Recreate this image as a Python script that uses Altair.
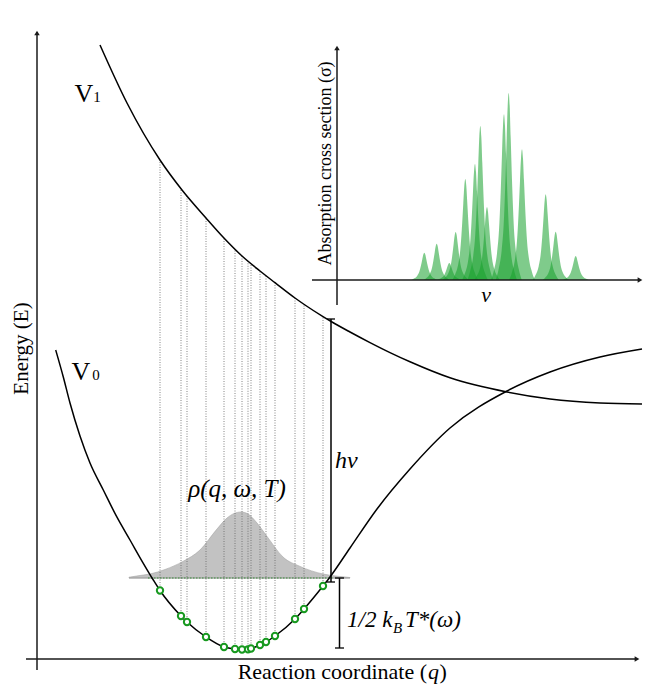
import altair as alt
import pandas as pd

# ---------------- data ----------------
# excited-state potential V1 (reaction coordinate q, energy E)
V1_q = [100, 127, 160, 182, 206, 223, 242, 260, 275, 295, 305, 323, 332, 350, 370, 390, 410, 450,
        507, 550, 600, 642]
V1_E = [615, 557, 500, 470, 442, 423, 404, 389, 377.3, 362, 355, 343.4, 338, 328, 317.4, 307.4, 298.2,
        282.2, 268, 261, 257, 256]

# ground-state potential V0
V0_q = [55.7, 63.3, 70, 80, 90, 103.3, 116.7, 130, 143.3, 153.3, 160, 181, 187, 206, 224, 235, 242,
        248, 251, 260, 266, 275, 295, 304, 323, 330, 350, 377, 410, 450, 507, 550, 600, 642]
V0_E = [310, 283, 257, 224, 197, 170, 143.3, 120, 96.7, 80, 69.5, 44, 38, 23, 13, 11, 10.5,
        10.7, 11.5, 15, 18, 24, 41, 51, 74, 83, 112, 151, 191, 232, 269, 288, 303, 311]

# sampled configurations on V0 and vertical excitation to V1
samp_q = [160, 181, 187, 206, 224, 235, 242, 248, 251, 260, 266, 275, 295, 304, 323]
samp_E0 = [69.5, 44, 38, 23, 13, 11, 10.5, 10.7, 11.5, 15, 18, 24, 41, 51, 74]
samp_E1 = [500, 471, 464, 442, 422, 411, 404, 399, 396.5, 389, 384.5, 377.3, 362, 355.7, 343.4]

# phase-space density rho(q, omega, T)
rho_q = [129, 140, 150, 165, 183, 200, 217, 227, 234, 241, 248, 257, 267, 283, 300, 323, 340, 350]
rho_h = [0.8, 2.5, 4, 8.5, 16.6, 28, 49, 60, 64.5, 66, 64, 55, 41.6, 21, 11.6, 4, 1.5, 0.5]
rho_base = 82

# energy bars
hnu_E = [78, 341]
kT_E = [12, 82]

# inset: absorption cross-section line positions and heights
peak_nu = [424.3, 436.7, 449.3, 455.7, 465.3, 475, 480.3, 487, 504, 508.7, 522, 545.7, 555.7, 575.7]
peak_h = [27.3, 36.3, 17, 48, 101, 116, 154, 73, 165.7, 187, 130.7, 85.7, 48.3, 24]
sigma_base = 380
# line-shape profile read from an isolated peak (offset, relative height)
prof_off = [-13, -10, -7, -5, -3.5, -2, -1, 0, 1, 2, 3.5, 5, 7, 10, 13]
prof_rel = [0, 0.06, 0.16, 0.3, 0.5, 0.76, 0.93, 1, 0.93, 0.76, 0.5, 0.3, 0.16, 0.06, 0]

# text
txt_energy = "Energy (E)"
txt_reac = ["Reaction coordinate (", "q", ")"]
txt_abs = "Absorption cross section (σ)"
txt_nu = "ν"
txt_rho = "ρ(q, ω, T)"
txt_hnu = "hν"
txt_kT = ["1/2 k", "B", "T*(ω)"]

# ---------------- chart ----------------
FONT = "Liberation Serif"
W, H = 643, 676
xs = alt.Scale(domain=[8, 651], nice=False, zero=False)
ys = alt.Scale(domain=[652 - H, 652], nice=False, zero=False)
X = alt.X("q:Q", scale=xs, axis=None)
Y = alt.Y("E:Q", scale=ys, axis=None, stack=None)

layers = []

# rho distribution
rho_df = pd.DataFrame({"q": rho_q, "E": [rho_base + h for h in rho_h], "E0": rho_base})
layers.append(alt.Chart(rho_df).mark_area(color="#c2c2c2", stroke="#a5a5a5", strokeWidth=0.6,
                                          interpolate="monotone")
              .encode(x=X, y=Y, y2=alt.Y2("E0:Q")))

# baseline of the distribution and thermal level
base_df = pd.DataFrame({"q": [rho_q[0]], "q2": [rho_q[-1]], "E": [rho_base]})
layers.append(alt.Chart(base_df).mark_rule(color="#a0a0a0", strokeWidth=1.2)
              .encode(x=X, x2="q2:Q", y=Y))
lvl_df = pd.DataFrame({"q": [148], "q2": [334], "E": [rho_base]})
layers.append(alt.Chart(lvl_df).mark_rule(color="#2a8a2a", strokeWidth=0.9, strokeDash=[1.5, 1.5])
              .encode(x=X, x2="q2:Q", y=Y))

# vertical dotted transitions
tr_df = pd.DataFrame({"q": samp_q, "E": samp_E0, "E1": samp_E1})
layers.append(alt.Chart(tr_df).mark_rule(color="#666666", strokeWidth=0.8, strokeDash=[1, 1.5])
              .encode(x=X, y=Y, y2="E1:Q"))

# potentials
v1_df = pd.DataFrame({"q": V1_q, "E": V1_E})
v0_df = pd.DataFrame({"q": V0_q, "E": V0_E})
for d in (v1_df, v0_df):
    layers.append(alt.Chart(d).mark_line(color="black", strokeWidth=1.5, interpolate="monotone")
                  .encode(x=X, y=Y))

# energy bars with caps
bars_df = pd.DataFrame({"q": [331, 339.5], "E": [hnu_E[0], kT_E[0]], "E1": [hnu_E[1], kT_E[1]]})
layers.append(alt.Chart(bars_df).mark_rule(color="black", strokeWidth=1.5)
              .encode(x=X, y=Y, y2="E1:Q"))
caps_df = pd.DataFrame({"q": [327, 327, 335, 335], "q2": [335, 335, 344, 344],
                        "E": [hnu_E[0], hnu_E[1], kT_E[0], kT_E[1]]})
layers.append(alt.Chart(caps_df).mark_rule(color="black", strokeWidth=1.3)
              .encode(x=X, x2="q2:Q", y=Y))

# sampled points
layers.append(alt.Chart(pd.DataFrame({"q": samp_q, "E": samp_E0}))
              .mark_point(shape="circle", filled=True, fill="white", stroke="#17991f",
                          strokeWidth=2, size=40, opacity=1)
              .encode(x=X, y=Y))

# inset spectrum
rows = []
for i, (c, h) in enumerate(zip(peak_nu, peak_h)):
    for o, r in zip(prof_off, prof_rel):
        rows.append({"q": c + o, "E": sigma_base + h * r, "E0": sigma_base, "pid": i})
pk_df = pd.DataFrame(rows)
layers.append(alt.Chart(pk_df).mark_area(color="#16a02c", opacity=0.55, interpolate="monotone")
              .encode(x=X, y=Y, y2=alt.Y2("E0:Q"), detail="pid:N"))

# axes (main + inset) as rules with arrow heads
ax_v = pd.DataFrame({"q": [37, 337], "E": [-10, 355], "E1": [628, 612]})
layers.append(alt.Chart(ax_v).mark_rule(color="#1a1a1a", strokeWidth=1.5)
              .encode(x=X, y=Y, y2="E1:Q"))
ax_h = pd.DataFrame({"q": [26, 312], "q2": [636, 639], "E": [1, 380]})
layers.append(alt.Chart(ax_h).mark_rule(color="#1a1a1a", strokeWidth=1.5)
              .encode(x=X, x2="q2:Q", y=Y))
layers.append(alt.Chart(pd.DataFrame({"q": [37, 337], "E": [627, 612]}))
              .mark_point(shape="triangle-up", filled=True, color="#1a1a1a", size=30, opacity=1)
              .encode(x=X, y=Y))
layers.append(alt.Chart(pd.DataFrame({"q": [637, 640], "E": [1, 380]}))
              .mark_point(shape="triangle-right", filled=True, color="#1a1a1a", size=30, opacity=1)
              .encode(x=X, y=Y))


def label(text, q, E, size, style="normal", angle=0, align="center", baseline="alphabetic"):
    d = pd.DataFrame({"q": [q], "E": [E], "t": [text]})
    kw = dict(font=FONT, fontSize=size, fontStyle=style, align=align, baseline=baseline, color="black")
    if angle:
        kw["angle"] = angle
    return alt.Chart(d).mark_text(**kw).encode(x=X, y=Y, text="t:N")


layers += [
    label("V", 84, 558, 26),
    label("1", 97, 558, 15),
    label("V", 81, 280, 26),
    label("0", 96, 280, 15),
    label(txt_energy, 28, 311.5, 21, angle=270),
    label(txt_reac[0], 427, -19, 22, align="right"),
    label(txt_reac[1], 428, -19, 22, style="italic", align="left"),
    label(txt_reac[2], 439.5, -19, 22, align="left"),
    label(txt_abs, 331, 496.5, 18, angle=270),
    label(txt_nu, 486, 358, 22, style="italic"),
    label(txt_rho, 237, 163, 25, style="italic"),
    label(txt_hnu, 335, 192, 24, style="italic", align="left"),
    label(txt_kT[0], 347, 33, 23, style="italic", align="left"),
    label(txt_kT[1], 393, 27, 15, style="italic", align="left"),
    label(txt_kT[2], 405, 33, 23, style="italic", align="left"),
]

chart = alt.layer(*layers).properties(
    width=W, height=H, padding=0,
    autosize=alt.AutoSizeParams(type="none"),
    background="white",
).configure_view(stroke=None)

chart.save("out.html", embed_options={"renderer": "svg", "actions": False})
